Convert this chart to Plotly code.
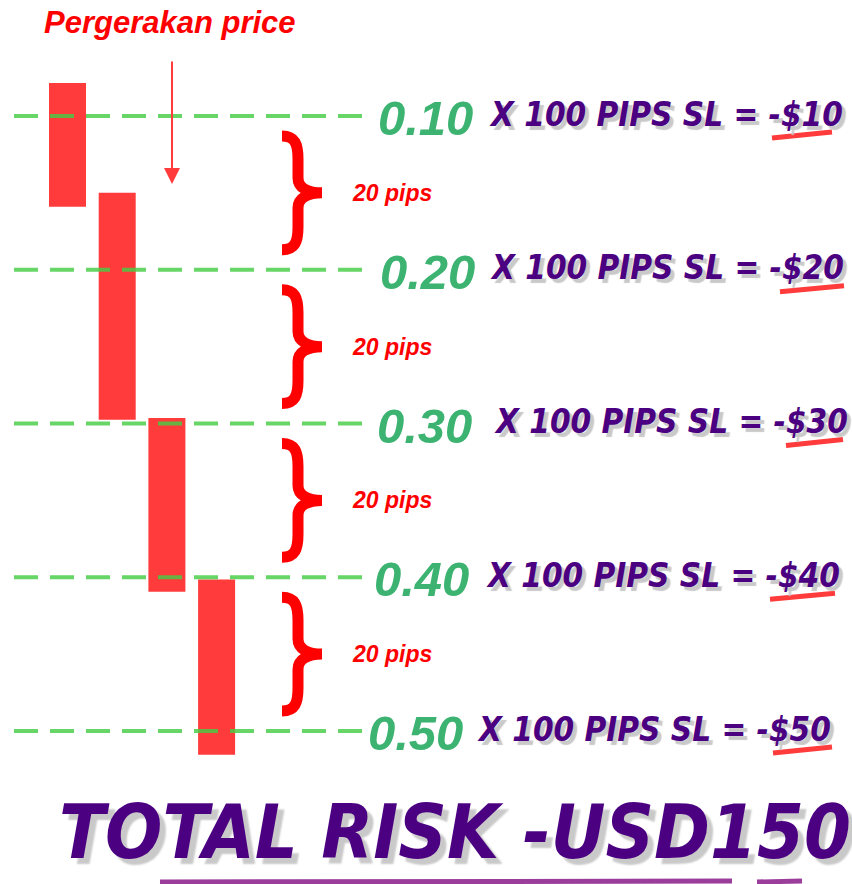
import plotly.graph_objects as go

# ---- data ----
lot_sizes = [0.10, 0.20, 0.30, 0.40, 0.50]
level_pips = [0, 20, 40, 60, 80]          # pips below first entry
sl_pips = 100
loss_usd = [10, 20, 30, 40, 50]
gap_labels = ["20 pips", "20 pips", "20 pips", "20 pips"]
candle_idx = [0, 1, 2, 3]
candle_open = [-4.3, 10.0, 39.3, 60.3]
candle_close = [11.8, 39.5, 61.9, 83.1]
total_risk = 150

W, H = 852, 884
px_per_pip = 7.6875
top_level_px = 116
x_unit = 49.7
x0_px = 67.5

RED = "#ff3b3b"
GREEN = "#3cb371"
PURPLE = "#4b0082"
SHADOW = "#c9c9c9"

fig = go.Figure()
fig.add_trace(go.Bar(
    x=candle_idx,
    base=candle_open,
    y=[c - o for o, c in zip(candle_open, candle_close)],
    width=37 / x_unit,
    marker=dict(color=RED, line=dict(width=0)),
    hoverinfo="skip",
))

shapes = []
annotations = []

def px_x(v):
    return v / W

def px_y(v):
    return 1 - v / H

def level_px(lv):
    return top_level_px + lv * px_per_pip

# dashed level lines
for lv in level_pips:
    shapes.append(dict(type="line", xref="paper", yref="y",
                       x0=14 / W, x1=366 / W, y0=lv, y1=lv, layer="above",
                       line=dict(color="rgba(70,205,70,0.82)", width=4, dash="24px,12px")))

# level labels
font_num = "Liberation Sans, Arial, sans-serif"
font_narrow = "DejaVu Sans Condensed, sans-serif"
num_x = [376, 378, 375, 372, 366]
txt_x = [487, 488, 492, 484, 475]
ul_x = [(772, 832), (780, 844), (786, 843), (770, 835), (773, 832)]
for i, (lot, lv, loss) in enumerate(zip(lot_sizes, level_pips, loss_usd)):
    annotations.append(dict(xref="paper", yref="y", x=num_x[i] / W, y=lv, yshift=-2,
                            xanchor="left", yanchor="middle", showarrow=False,
                            text=f"{lot:.2f}",
                            font=dict(family=font_num, size=49, color=GREEN,
                                      weight="bold", style="italic")))
    t = f"X {sl_pips} PIPS SL = -${loss}"
    annotations.append(dict(xref="paper", yref="y", x=txt_x[i] / W, y=lv, yshift=2,
                            xanchor="left", yanchor="middle", showarrow=False, text=t,
                            font=dict(family=font_narrow, size=33, color=PURPLE,
                                      weight="bold", style="italic",
                                      shadow=f"4px 4px 1px {SHADOW}")))
    # red underline under amount
    ypx = level_px(lv)
    shapes.append(dict(type="line", xref="paper", yref="paper",
                       x0=px_x(ul_x[i][0]), x1=px_x(ul_x[i][1]),
                       y0=px_y(ypx + 22), y1=px_y(ypx + 16),
                       line=dict(color=RED, width=5)))

# braces and gap labels
def brace_path(top, bot, xl=282, xs=298, xt=322):
    cy = (top + bot) / 2
    pts = [
        ("M", [(xl, top)]),
        ("C", [(xs - 3, top), (xs, top + 8), (xs, top + 23)]),
        ("L", [(xs, cy - 15)]),
        ("C", [(xs, cy - 5), (xs + 10, cy), (xt, cy)]),
        ("C", [(xs + 10, cy), (xs, cy + 5), (xs, cy + 15)]),
        ("L", [(xs, bot - 23)]),
        ("C", [(xs, bot - 8), (xs - 3, bot), (xl, bot)]),
    ]
    s = ""
    for cmd, pp in pts:
        s += cmd + " " + " ".join(f"{px_x(a):.5f},{px_y(b):.5f}" for a, b in pp) + " "
    return s.strip()

for i, g in enumerate(gap_labels):
    mid = (level_pips[i] + level_pips[i + 1]) / 2
    top = level_px(level_pips[i]) + 20
    bot = level_px(level_pips[i + 1]) - 20
    shapes.append(dict(type="path", xref="paper", yref="paper", path=brace_path(top, bot),
                       line=dict(color="#ff0000", width=11)))
    annotations.append(dict(xref="paper", yref="y", x=392 / W, y=mid, yshift=0,
                            xanchor="center", yanchor="middle", showarrow=False,
                            text=g,
                            font=dict(family=font_num, size=23, color="#ff0000",
                                      weight="bold", style="italic")))

# title + arrow
annotations.append(dict(xref="paper", yref="paper", x=170 / W, y=px_y(22),
                        xanchor="center", yanchor="middle", showarrow=False,
                        text="Pergerakan price",
                        font=dict(family=font_num, size=31, color="#ff0000",
                                  weight="bold", style="italic")))
annotations.append(dict(xref="paper", yref="paper", x=172 / W, y=px_y(184),
                        ax=0, ay=-124, axref="pixel", ayref="pixel",
                        showarrow=True, arrowhead=2, arrowsize=1.6, arrowwidth=2,
                        arrowcolor=RED, text=""))

# total risk
tt = f"TOTAL RISK -USD{total_risk}"
annotations.append(dict(xref="paper", yref="paper", x=455 / W, y=px_y(832),
                        xanchor="center", yanchor="middle", showarrow=False, text=tt,
                        font=dict(family=font_narrow, size=75, color=PURPLE,
                                  weight="bold", style="italic",
                                  shadow=f"6px 6px 2px {SHADOW}")))
for a, b in [(160, 732), (757, 802)]:
    shapes.append(dict(type="line", xref="paper", yref="paper",
                       x0=px_x(a), x1=px_x(b), y0=px_y(882), y1=px_y(881),
                       line=dict(color="#9b3d9b", width=5)))

fig.update_layout(
    width=W, height=H,
    margin=dict(l=0, r=0, t=0, b=0),
    paper_bgcolor="white", plot_bgcolor="white",
    showlegend=False,
    shapes=shapes, annotations=annotations,
    xaxis=dict(range=[-x0_px / x_unit, (W - x0_px) / x_unit], visible=False, fixedrange=True),
    yaxis=dict(range=[(H - top_level_px) / px_per_pip, -top_level_px / px_per_pip],
               visible=False, fixedrange=True),
)

fig.write_html("out.html", config={"displayModeBar": False},
               post_script="document.body.style.margin='0';")
